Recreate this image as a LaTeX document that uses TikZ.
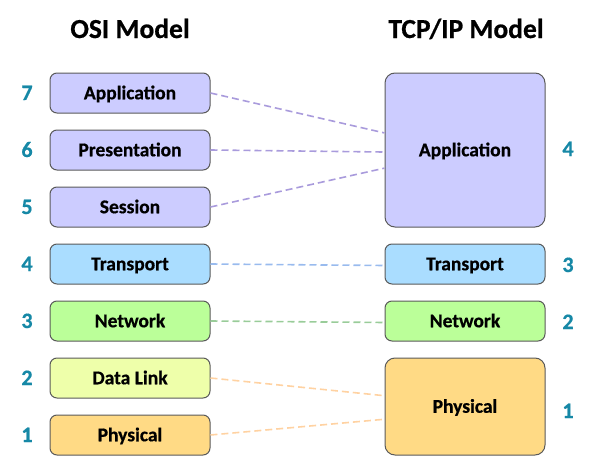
\documentclass[tikz,border=0pt]{standalone}
\usepackage{fontspec}
\setmainfont{Carlito}[BoldFeatures={FakeBold=0.6}]
\usetikzlibrary{calc}
\definecolor{cPurple}{HTML}{CCCCFF}
\definecolor{cBlue}{HTML}{AADDFF}
\definecolor{cGreen}{HTML}{BBFF99}
\definecolor{cLime}{HTML}{EEFFAA}
\definecolor{cOrange}{HTML}{FFDA85}
\definecolor{lPurple}{HTML}{A99BDC}
\definecolor{lBlue}{HTML}{99BBEE}
\definecolor{lGreen}{HTML}{99CC99}
\definecolor{lOrange}{HTML}{FFD2A2}
\definecolor{numcol}{RGB}{22,136,166}
\definecolor{bordercol}{HTML}{5A5A5A}
\begin{document}
\begin{tikzpicture}[x=1pt,y=-1pt,
  layer/.style={draw=bordercol, line width=1pt, rounded corners=7pt,
    minimum width=160pt, minimum height=40pt, inner sep=0pt,
    font=\bfseries\fontsize{19.5}{22}\selectfont, text height=12.5pt, text depth=0pt},
  biglayer/.style={layer, rounded corners=10pt},
  num/.style={text=numcol, font=\bfseries\fontsize{22}{24}\selectfont, text height=14pt, text depth=0pt, inner sep=0pt},
  title/.style={font=\bfseries\fontsize{27.5}{30}\selectfont, text height=18pt, text depth=0pt, inner sep=0pt},
  link/.style={line width=1.6pt, dash pattern=on 7pt off 4pt}]
\useasboundingbox (0,0) rectangle (595,471);
\node[title] (ht1) at (130,29) {OSI Model};
\node[title] (ht2) at (466,29) {TCP/IP Model};
% OSI
\node[layer, fill=cPurple] (o7) at (130,93) {Application};
\node[layer, fill=cPurple] (o6) at (130,150) {Presentation};
\node[layer, fill=cPurple] (o5) at (130,207) {Session};
\node[layer, fill=cBlue] (o4) at (130,264) {Transport};
\node[layer, fill=cGreen] (o3) at (130,321) {Network};
\node[layer, fill=cLime] (o2) at (130,378) {Data Link};
\node[layer, fill=cOrange] (o1) at (130,435) {Physical};
% TCP/IP
\node[biglayer, fill=cPurple, minimum height=154pt] (t4) at (465,150) {Application};
\node[layer, fill=cBlue] (t3) at (465,264) {Transport};
\node[layer, fill=cGreen] (t2) at (465,321) {Network};
\node[biglayer, fill=cOrange, minimum height=97pt] (t1) at (465,406.5) {Physical};
% numbers
\node[num] (n7) at (27,93) {7};
\node[num] (n6) at (27,150) {6};
\node[num] (n5) at (27,207) {5};
\node[num] (n4) at (27,264) {4};
\node[num] (n3) at (27,321) {3};
\node[num] (n2) at (27,378) {2};
\node[num] (n1) at (27,435) {1};
\node[num] (m4) at (568,149) {4};
\node[num] (m3) at (568,265) {3};
\node[num] (m2) at (568,322) {2};
\node[num] (m1) at (568,411) {1};
% links
\draw[link, lPurple] (o7.east) -- ($(t4.north west)!0.39!(t4.south west)$);
\draw[link, lPurple] (o6.east) -- ($(t4.north west)!0.513!(t4.south west)$);
\draw[link, lPurple] (o5.east) -- ($(t4.north west)!0.617!(t4.south west)$);
\draw[link, lBlue] (o4.east) -- ($(t3.west)+(0,1.5)$);
\draw[link, lGreen] (o3.east) -- ($(t2.west)+(0,1.5)$);
\draw[link, lOrange] (o2.east) -- ($(t1.north west)!0.39!(t1.south west)$);
\draw[link, lOrange] (o1.east) -- ($(t1.north west)!0.63!(t1.south west)$);
\end{tikzpicture}
\end{document}
